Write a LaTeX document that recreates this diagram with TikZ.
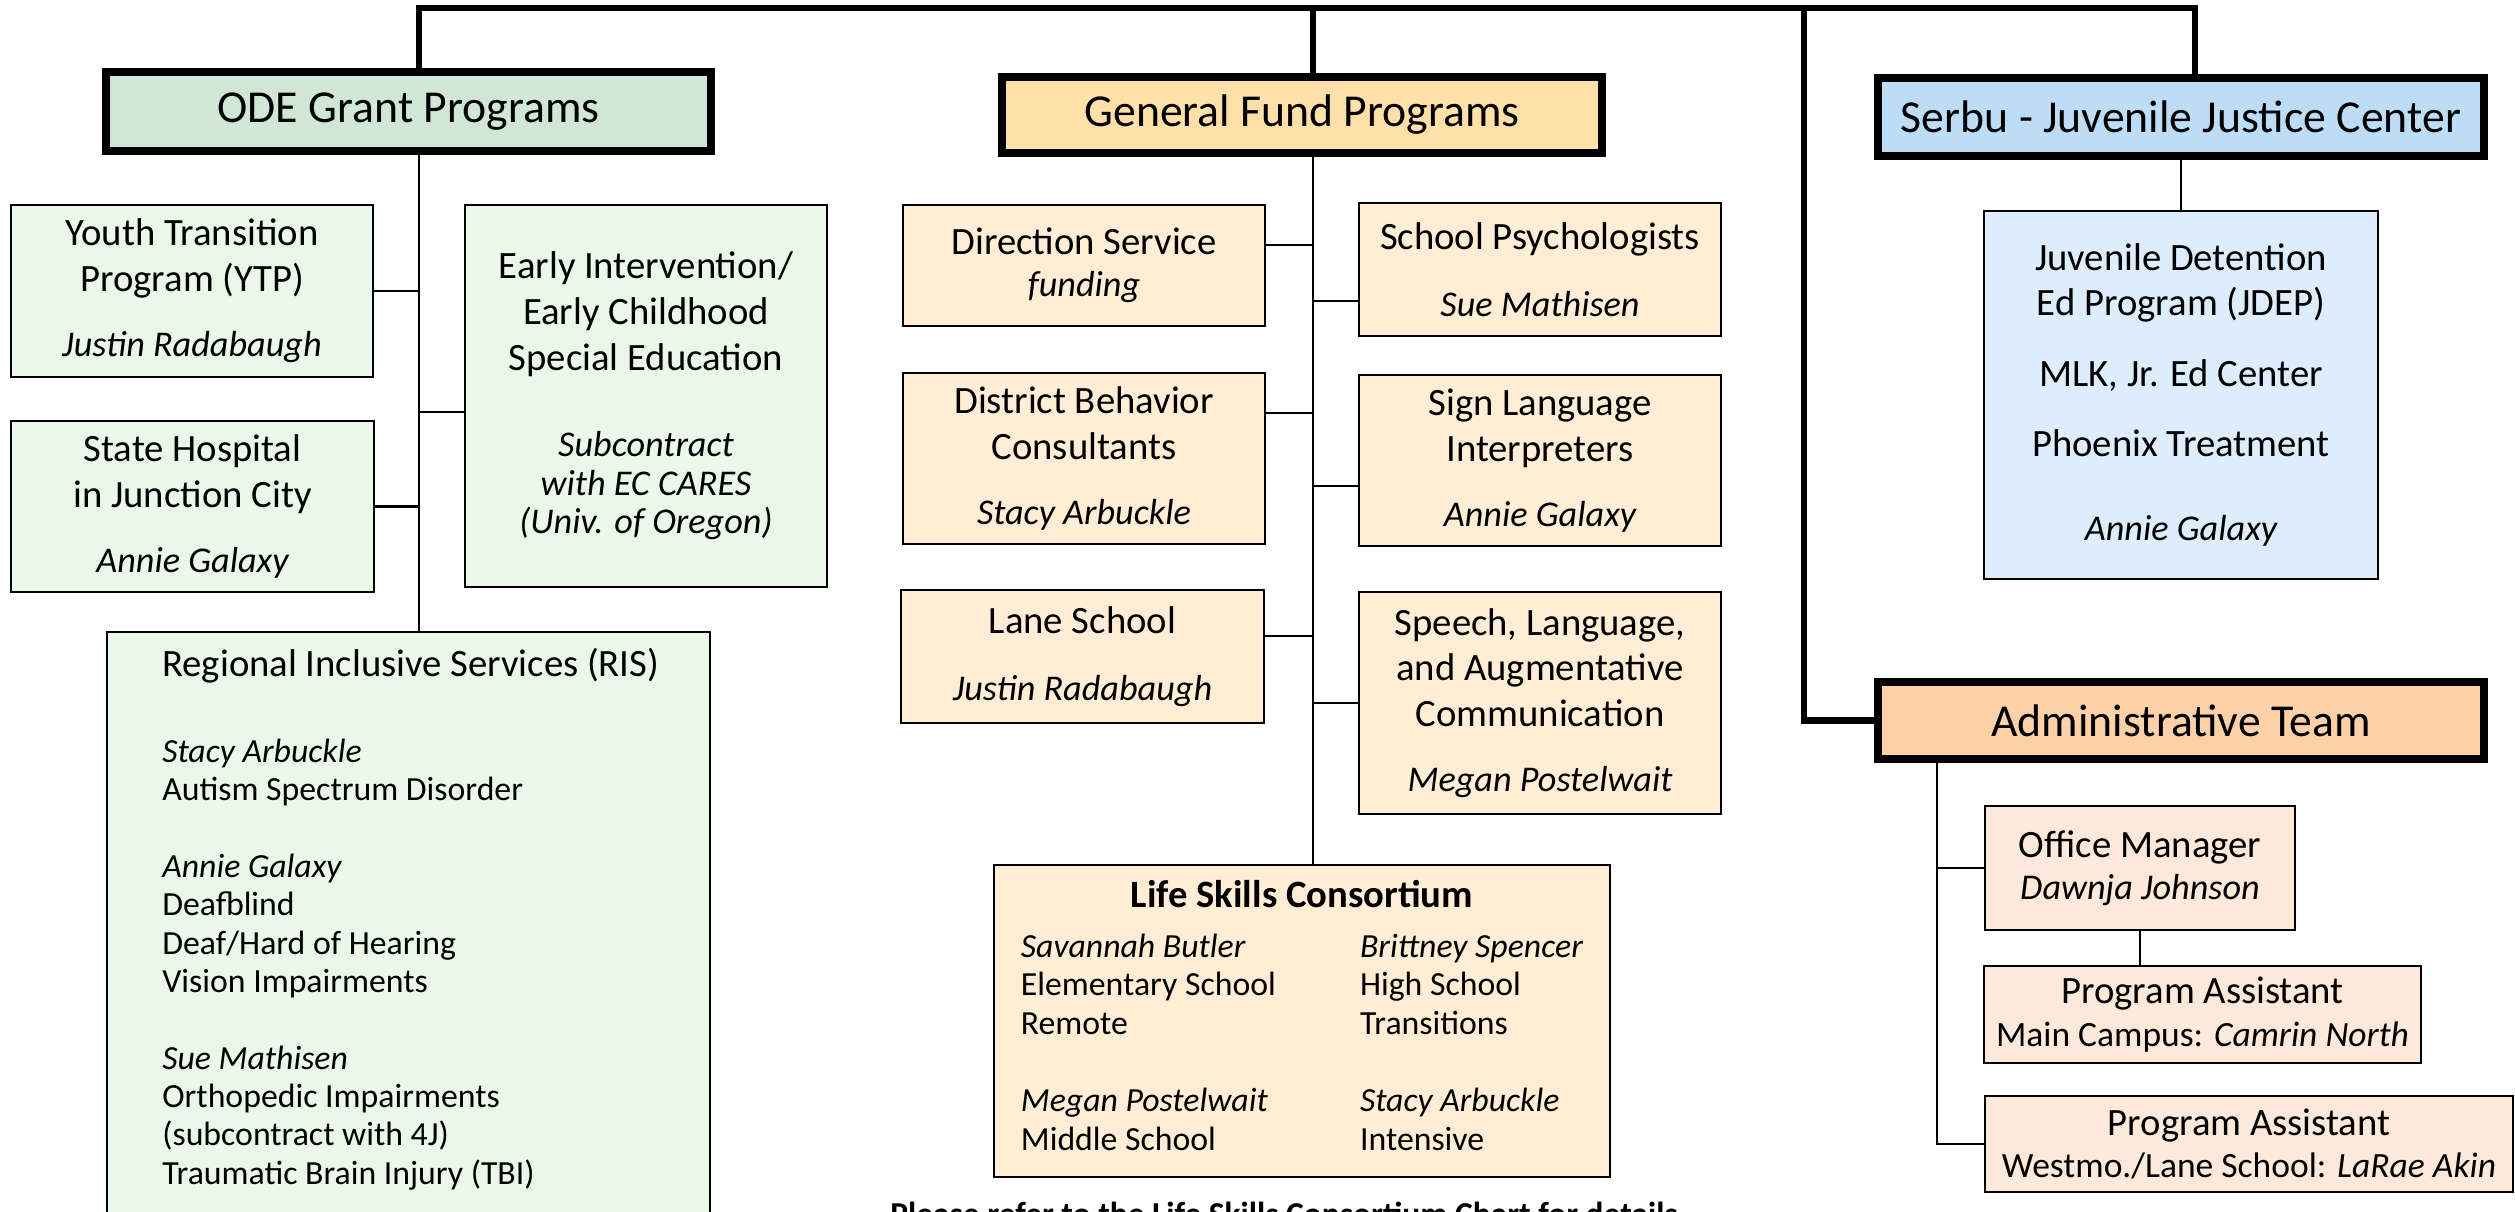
\documentclass[tikz,border=0pt]{standalone}
\usepackage{fontspec}
\setmainfont{Carlito}
\usepackage{tikz}
\usepackage{xcolor}

\definecolor{odehead}{HTML}{D1E7D6}
\definecolor{odebox}{HTML}{EAF8EA}
\definecolor{gfhead}{HTML}{FFE0A8}
\definecolor{gfbox}{HTML}{FFEED5}
\definecolor{jjchead}{HTML}{BDDCF6}
\definecolor{jjcbox}{HTML}{DDEDFC}
\definecolor{admhead}{HTML}{FCD1A8}
\definecolor{admbox}{HTML}{FDE9DA}

\newcommand{\who}[1]{{\fontsize{10.3}{11}\selectfont\itshape #1}}

\begin{document}
\begin{tikzpicture}[x=0.01cm, y=-0.01cm,
    headbox/.style={rectangle, draw, line width=2.2pt, inner sep=0pt, font=\fontsize{13}{15}\selectfont},
    unitbox/.style={rectangle, draw, line width=0.7pt, inner sep=0pt, align=center, font=\fontsize{11}{13}\selectfont},
    busline/.style={line width=1.8pt},
    linkline/.style={line width=0.6pt}]
        \useasboundingbox (0,0) rectangle (2515,1211);

        \node (ode) [headbox, fill=odehead, minimum width=6.05cm, minimum height=0.79cm] at (408.5,111.5) {ODE Grant Programs};
        \node (gf) [headbox, fill=gfhead, minimum width=6.0cm, minimum height=0.76cm] at (1302,115) {General Fund Programs};
        \node (jjc) [headbox, fill=jjchead, minimum width=6.06cm, minimum height=0.78cm] at (2181,117) {Serbu - Juvenile Justice Center};
        \node (adm) [headbox, fill=admhead, minimum width=6.06cm, minimum height=0.77cm] at (2181,720.5) {Administrative Team};

        \node (ytp) [unitbox, fill=odebox, minimum width=3.62cm, minimum height=1.72cm] at (192,291) {Youth Transition\\Program (YTP)\\[5.5pt]\who{Justin Radabaugh}};
        \node (sh) [unitbox, fill=odebox, minimum width=3.63cm, minimum height=1.71cm] at (192.5,506.5) {State Hospital\\in Junction City\\[5.5pt]\who{Annie Galaxy}};
        \node (ei) [unitbox, fill=odebox, minimum width=3.62cm, minimum height=3.82cm] at (646,396) {Early Intervention/\\Early Childhood\\Special Education\\[11.5pt]\who{Subcontract}\\[-2pt]\who{with EC CARES}\\[-2pt]\who{(Univ. of Oregon)}};
        \node (ris) [unitbox, fill=odebox, minimum width=6.03cm, minimum height=5.84cm] at (408.5,924) {};
        \node (ristext) [anchor=north west, inner sep=0pt, align=left, font=\fontsize{9.6}{10.9}\selectfont] at ([xshift=0.56cm,yshift=-0.17cm]ris.north west) {{\fontsize{11}{11}\selectfont Regional Inclusive Services (RIS)}\\[13.5pt]
            \textit{Stacy Arbuckle}\\Autism Spectrum Disorder\\[10.9pt]
            \textit{Annie Galaxy}\\Deafblind\\Deaf/Hard of Hearing\\Vision Impairments\\[10.9pt]
            \textit{Sue Mathisen}\\Orthopedic Impairments\\(subcontract with 4J)\\Traumatic Brain Injury (TBI)};

        \node (ds) [unitbox, fill=gfbox, minimum width=3.62cm, minimum height=1.21cm] at (1084,265.5) {Direction Service\\[-1pt]\who{funding}};
        \node (sp) [unitbox, fill=gfbox, minimum width=3.62cm, minimum height=1.33cm] at (1540,269.5) {School Psychologists\\[6pt]\who{Sue Mathisen}};
        \node (dbc) [unitbox, fill=gfbox, minimum width=3.62cm, minimum height=1.71cm] at (1084,458.5) {District Behavior\\Consultants\\[5.5pt]\who{Stacy Arbuckle}};
        \node (sli) [unitbox, fill=gfbox, minimum width=3.62cm, minimum height=1.71cm] at (1540,460.5) {Sign Language\\Interpreters\\[5.5pt]\who{Annie Galaxy}};
        \node (lane) [unitbox, fill=gfbox, minimum width=3.63cm, minimum height=1.33cm] at (1082.5,656.5) {Lane School\\[6pt]\who{Justin Radabaugh}};
        \node (slac) [unitbox, fill=gfbox, minimum width=3.62cm, minimum height=2.22cm] at (1540,703) {Speech, Language,\\and Augmentative\\Communication\\[5.5pt]\who{Megan Postelwait}};
        \node (lsc) [unitbox, fill=gfbox, minimum width=6.16cm, minimum height=3.12cm] at (1302,1021) {{\bfseries Life Skills Consortium}\\[5.5pt]
            {\fontsize{9.6}{11}\selectfont\begin{tabular}{@{}p{3.39cm}@{}l@{}}
            \textit{Savannah Butler} & \textit{Brittney Spencer}\\
            Elementary School & High School\\
            Remote & Transitions\\[11pt]
            \textit{Megan Postelwait} & \textit{Stacy Arbuckle}\\
            Middle School & Intensive
            \end{tabular}}};
        \node (note) [anchor=north, inner sep=0pt, font=\bfseries\fontsize{9.5}{11}\selectfont] at (1284,1201) {Please refer to the Life Skills Consortium Chart for details};

        \node (jdep) [unitbox, fill=jjcbox, minimum width=3.94cm, minimum height=3.68cm] at (2181,395) {Juvenile Detention\\Ed Program (JDEP)\\[7pt]MLK, Jr. Ed Center\\[7pt]Phoenix Treatment\\[11pt]\who{Annie Galaxy}};

        \node (om) [unitbox, fill=admbox, minimum width=3.10cm, minimum height=1.24cm] at (2140,868) {Office Manager\\[-1pt]\who{Dawnja Johnson}};
        \node (pa1) [unitbox, fill=admbox, minimum width=4.37cm, minimum height=0.97cm] at (2202.5,1014.5) {Program Assistant\\[-1pt]{\fontsize{10.1}{11}\selectfont Main Campus: \textit{Camrin North}}};
        \node (pa2) [unitbox, fill=admbox, minimum width=5.28cm, minimum height=0.96cm] at (2249,1144) {Program Assistant\\[-1pt]{\fontsize{10.1}{11}\selectfont Westmo./Lane School: \textit{LaRae Akin}}};

        \coordinate (odeup) at (419,8);
        \coordinate (gfup) at (1313,8);
        \coordinate (admup) at (1804,8);
        \coordinate (jjcup) at (2195,8);
        \coordinate (admdown) at (1937,0);

        \draw [busline] (odeup |- ode.north) -- (odeup) -- (jjcup) -- (jjcup |- jjc.north);
        \draw [busline] (gfup) -- (gfup |- gf.north);
        \draw [busline] (admup) -- (admup |- adm.west) -- (adm.west);

        \draw [linkline] (odeup |- ode.south) -- (odeup |- ris.north);
        \draw [linkline] (ytp.east) -- (ytp.east -| odeup);
        \draw [linkline] (sh.east) -- (sh.east -| odeup);
        \draw [linkline] ([yshift=-0.16cm]ei.west) -- ([yshift=-0.16cm]ei.west -| odeup);

        \draw [linkline] (gfup |- gf.south) -- (gfup |- lsc.north);
        \draw [linkline] ([yshift=0.205cm]ds.east) -- ([yshift=0.205cm]ds.east -| gfup);
        \draw [linkline] ([yshift=-0.315cm]sp.west) -- ([yshift=-0.315cm]sp.west -| gfup);
        \draw [linkline] ([yshift=0.455cm]dbc.east) -- ([yshift=0.455cm]dbc.east -| gfup);
        \draw [linkline] ([yshift=-0.255cm]sli.west) -- ([yshift=-0.255cm]sli.west -| gfup);
        \draw [linkline] ([yshift=0.205cm]lane.east) -- ([yshift=0.205cm]lane.east -| gfup);
        \draw [linkline] (slac.west) -- (slac.west -| gfup);

        \draw [linkline] (jjc.south) -- (jjc.south |- jdep.north);

        \draw [linkline] (admdown |- adm.south) -- (admdown |- pa2.west) -- (pa2.west);
        \draw [linkline] (om.west) -- (om.west -| admdown);
        \draw [linkline] (om.south) -- (om.south |- pa1.north);
    \end{tikzpicture}
\end{document}
